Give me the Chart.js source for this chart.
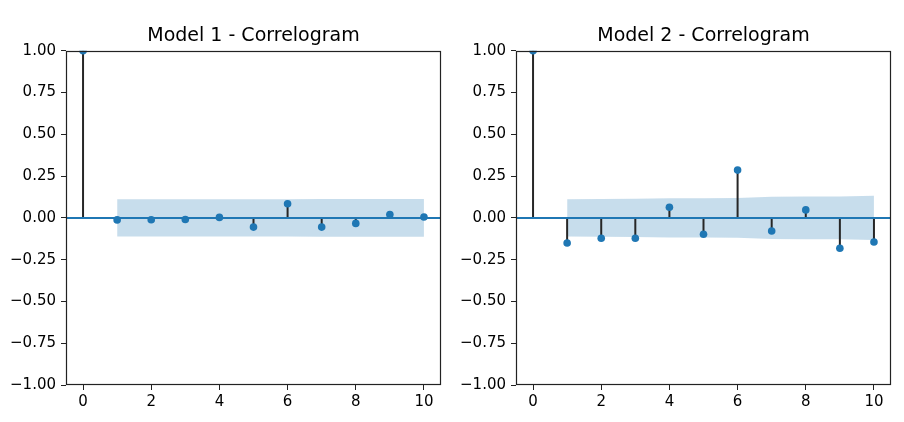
<!DOCTYPE html>
<html><head><meta charset="utf-8">
<script src="https://cdn.jsdelivr.net/npm/chart.js@4.4.1/dist/chart.umd.min.js"></script>
<style>
html,body{margin:0;padding:0;background:#fff;}
#wrap{position:relative;width:904px;height:422px;background:#fff;}
.c{position:absolute;top:0;width:452px;height:422px;}
</style></head><body>
<div id="wrap">
<div class="c" style="left:0"><canvas id="c1" width="452" height="422"></canvas></div>
<div class="c" style="left:452px"><canvas id="c2" width="452" height="422"></canvas></div>
</div>
<script>
// ---- data ----
const lags = [0, 1, 2, 3, 4, 5, 6, 7, 8, 9, 10];
const bandLags = [1, 2, 3, 4, 5, 6, 7, 8, 9, 10];
const xTickValues = [0, 2, 4, 6, 8, 10];
const yTickValues = [-1, -0.75, -0.5, -0.25, 0, 0.25, 0.5, 0.75, 1];

const model1Title = "Model 1 - Correlogram";
const model1Acf = [1.0, -0.012, -0.011, -0.010, 0.003, -0.055, 0.085, -0.055, -0.033, 0.020, 0.005];
const model1BandUpper = [0.112, 0.112, 0.112, 0.112, 0.112, 0.112, 0.113, 0.113, 0.113, 0.113];
const model1BandLower = [-0.112, -0.112, -0.112, -0.112, -0.112, -0.112, -0.113, -0.113, -0.113, -0.113];

const model2Title = "Model 2 - Correlogram";
const model2Acf = [1.0, -0.150, -0.122, -0.122, 0.064, -0.098, 0.286, -0.078, 0.048, -0.182, -0.144];
const model2BandUpper = [0.111, 0.113, 0.115, 0.117, 0.118, 0.119, 0.127, 0.128, 0.128, 0.132];
const model2BandLower = [-0.111, -0.113, -0.115, -0.117, -0.118, -0.119, -0.127, -0.128, -0.128, -0.132];

// ---- styling ----
const C0 = '#1f77b4';
const FONT = 'DejaVu Sans';

const framePlugin = {
  id: 'frame',
  afterDatasetsDraw(chart) {
    const a = chart.chartArea, ctx = chart.ctx;
    ctx.save();
    ctx.strokeStyle = '#222';
    ctx.lineWidth = 1.2;
    ctx.strokeRect(Math.round(a.left) + 0.5, Math.round(a.top) + 0.5,
                   Math.round(a.right - a.left) - 1, Math.round(a.bottom - a.top) - 1);
    ctx.restore();
  }
};

function fmtY(v) {
  const s = Math.abs(v).toFixed(2);
  return v < -1e-9 ? '\u2212' + s : s;
}

function makeChart(id, title, acf, upper, lower, yAxisWidth, padRight) {
  const stems = [];
  lags.forEach((l, i) => {
    stems.push({x: l, y: 0}, {x: l, y: acf[i]}, {x: l, y: null});
  });
  const pts = lags.map((l, i) => ({x: l, y: acf[i]}));
  new Chart(document.getElementById(id), {
    type: 'line',
    data: {
      datasets: [
        { data: bandLags.map((l, i) => ({x: l, y: upper[i]})), borderWidth: 0, pointRadius: 0,
          backgroundColor: 'rgba(31,119,180,0.25)', borderColor: 'rgba(31,119,180,0.25)', fill: false, order: 5 },
        { data: bandLags.map((l, i) => ({x: l, y: lower[i]})), borderWidth: 0, pointRadius: 0,
          backgroundColor: 'rgba(31,119,180,0.25)', borderColor: 'rgba(31,119,180,0.25)', fill: '-1', order: 4 },
        { data: stems, borderColor: '#262626', borderWidth: 2, pointRadius: 0, spanGaps: false, fill: false, order: 3 },
        { data: [{x: -0.5, y: 0}, {x: 10.5, y: 0}], borderColor: C0, borderWidth: 2, pointRadius: 0, fill: false, order: 2 },
        { data: pts, showLine: false, pointRadius: 3.8, pointBackgroundColor: C0, pointBorderWidth: 0,
          borderColor: C0, clip: 0, order: 1 }
      ]
    },
    options: {
      responsive: false,
      animation: false,
      events: [],
      layout: { padding: { top: 0, right: padRight, bottom: 0, left: 0 } },
      plugins: {
        legend: { display: false },
        tooltip: { enabled: false },
        title: { display: true, text: title, fullSize: false, color: '#000',
                 font: { family: FONT, size: 19, weight: 'normal', lineHeight: 1.2 },
                 padding: { top: 25, bottom: 3 } }
      },
      scales: {
        x: {
          type: 'linear', min: -0.5, max: 10.5,
          afterBuildTicks: s => { s.ticks = xTickValues.map(v => ({value: v})); },
          afterFit: s => { s.height = 37; },
          grid: { display: true, drawOnChartArea: false, drawTicks: true, tickLength: 5, color: '#222', lineWidth: 1 },
          border: { display: false },
          ticks: { color: '#000', font: { family: FONT, size: 15 }, padding: 3, maxRotation: 0,
                   callback: v => String(v) }
        },
        y: {
          type: 'linear', min: -1, max: 1,
          afterBuildTicks: s => { s.ticks = yTickValues.map(v => ({value: v})); },
          afterFit: s => { s.width = yAxisWidth; },
          grid: { display: true, drawOnChartArea: false, drawTicks: true, tickLength: 5, color: '#222', lineWidth: 1 },
          border: { display: false },
          ticks: { color: '#000', font: { family: FONT, size: 15 }, padding: 5, callback: v => fmtY(v) }
        }
      }
    },
    plugins: [framePlugin]
  });
}

makeChart('c1', model1Title, model1Acf, model1BandUpper, model1BandLower, 66, 11);
makeChart('c2', model2Title, model2Acf, model2BandUpper, model2BandLower, 64, 13);
</script>
</body></html>
